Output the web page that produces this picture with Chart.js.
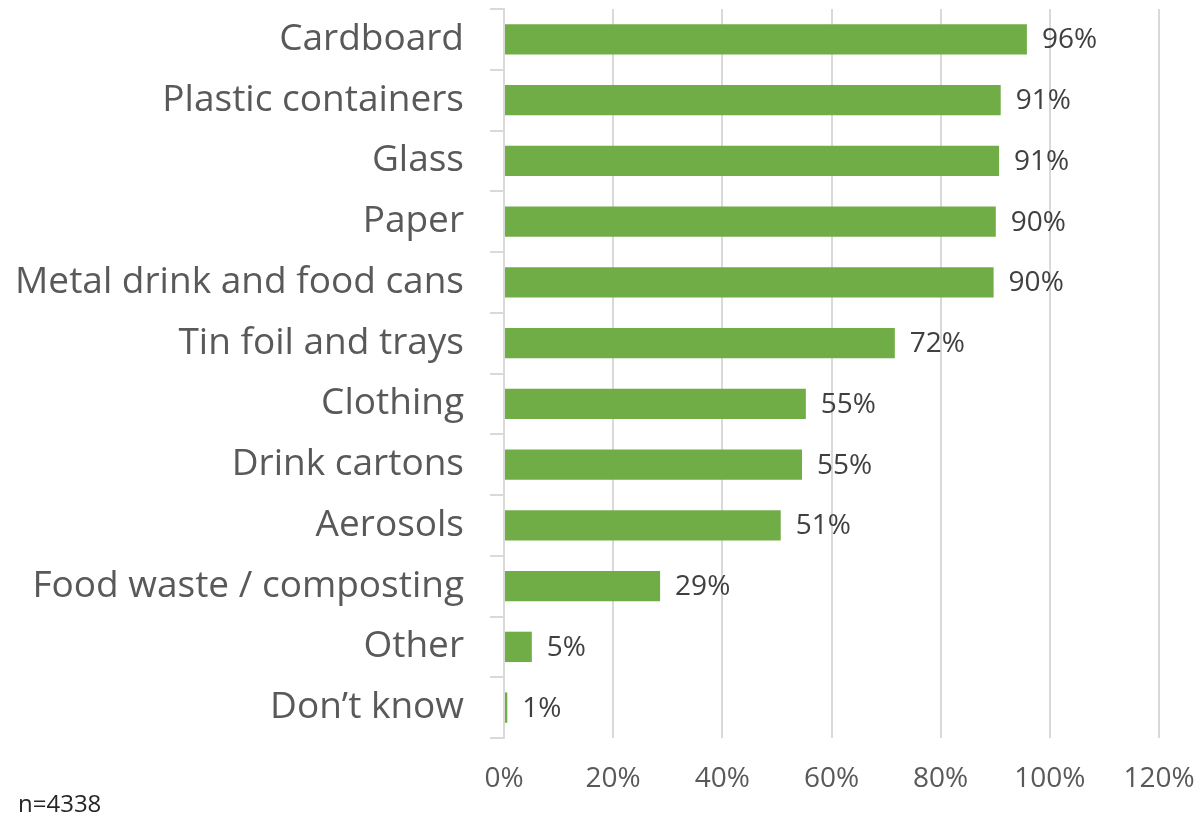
<!DOCTYPE html>
<html>
<head>
<meta charset="utf-8">
<script src="https://cdn.jsdelivr.net/npm/chart.js@4/dist/chart.umd.min.js"></script>
<style>
    html, body { margin: 0; padding: 0; background: #fff; }
    #wrap { position: relative; width: 1199px; height: 816px; }
    #note { position: absolute; left: 18px; top: 786px; font: 24px "Open Sans", sans-serif; color: #262626; }
</style>
</head>
<body>
<div id="wrap">
    <canvas id="recycleChart" width="1199" height="816"></canvas>
    <div id="note">n=4338</div>
</div>
<script>
// categories and values
const materials = [
    `Cardboard`,
    `Plastic containers`,
    `Glass`,
    `Paper`,
    `Metal drink and food cans`,
    `Tin foil and trays`,
    `Clothing`,
    `Drink cartons`,
    `Aerosols`,
    `Food waste / composting`,
    `Other`,
    `Don\u2019t know`
]
const shares = [95.8, 91.0, 90.7, 90.1, 89.7, 71.6, 55.3, 54.6, 50.7, 28.6, 5.1, 0.6]
const xTicks = [0, 20, 40, 60, 80, 100, 120]
//
const barGreen = `#70AD47`
const gridGrey = `#d9d9d9`
const textGrey = `#595959`
const fontFamily = `"Open Sans", sans-serif`

// value labels at the end of each bar
const valueLabels = {
    id: `valueLabels`,
    afterDatasetsDraw(chart) {
        const ctx = chart.ctx
        const meta = chart.getDatasetMeta(0)
        ctx.save()
        ctx.font = `28px ${fontFamily}`
        ctx.fillStyle = `#404040`
        ctx.textAlign = `left`
        ctx.textBaseline = `middle`
        meta.data.forEach((bar, i) => {
            ctx.fillText(`${Math.round(shares[i])}%`, bar.x + 15, bar.y + 1)
        })
        ctx.restore()
    }
}

new Chart(`recycleChart`, {
    type: `bar`,
    data: {
        labels: materials,
        datasets: [{
            data: shares,
            backgroundColor: barGreen,
            barPercentage: 0.5,
            categoryPercentage: 1
        }]
    },
    options: {
        indexAxis: `y`,
        responsive: false,
        animation: false,
        layout: { padding: { top: 9, right: 40, left: 0, bottom: 0 } },
        plugins: {
            legend: { display: false },
            tooltip: { enabled: false }
        },
        scales: {
            x: {
                min: 0,
                max: 120,
                afterBuildTicks: scale => {
                    scale.ticks = xTicks.map(v => ({ value: v }))
                },
                afterFit: scale => {
                    scale.height = 78
                    scale.paddingLeft = 0
                    scale.paddingRight = 0
                },
                grid: { color: gridGrey, lineWidth: 2, drawTicks: false },
                border: { display: false },
                ticks: {
                    padding: 24,
                    color: textGrey,
                    font: { family: fontFamily, size: 28 },
                    callback: v => `${v}%`
                }
            },
            y: {
                afterFit: scale => {
                    scale.width = 504
                    scale.paddingTop = 0
                    scale.paddingBottom = 0
                },
                grid: {
                    offset: true,
                    drawOnChartArea: false,
                    drawTicks: true,
                    tickLength: 14,
                    color: gridGrey,
                    lineWidth: 2
                },
                border: { display: true, color: gridGrey, width: 2 },
                ticks: {
                    padding: 26,
                    color: textGrey,
                    font: { family: fontFamily, size: 37 }
                }
            }
        }
    },
    plugins: [valueLabels]
})
</script>
</body>
</html>
